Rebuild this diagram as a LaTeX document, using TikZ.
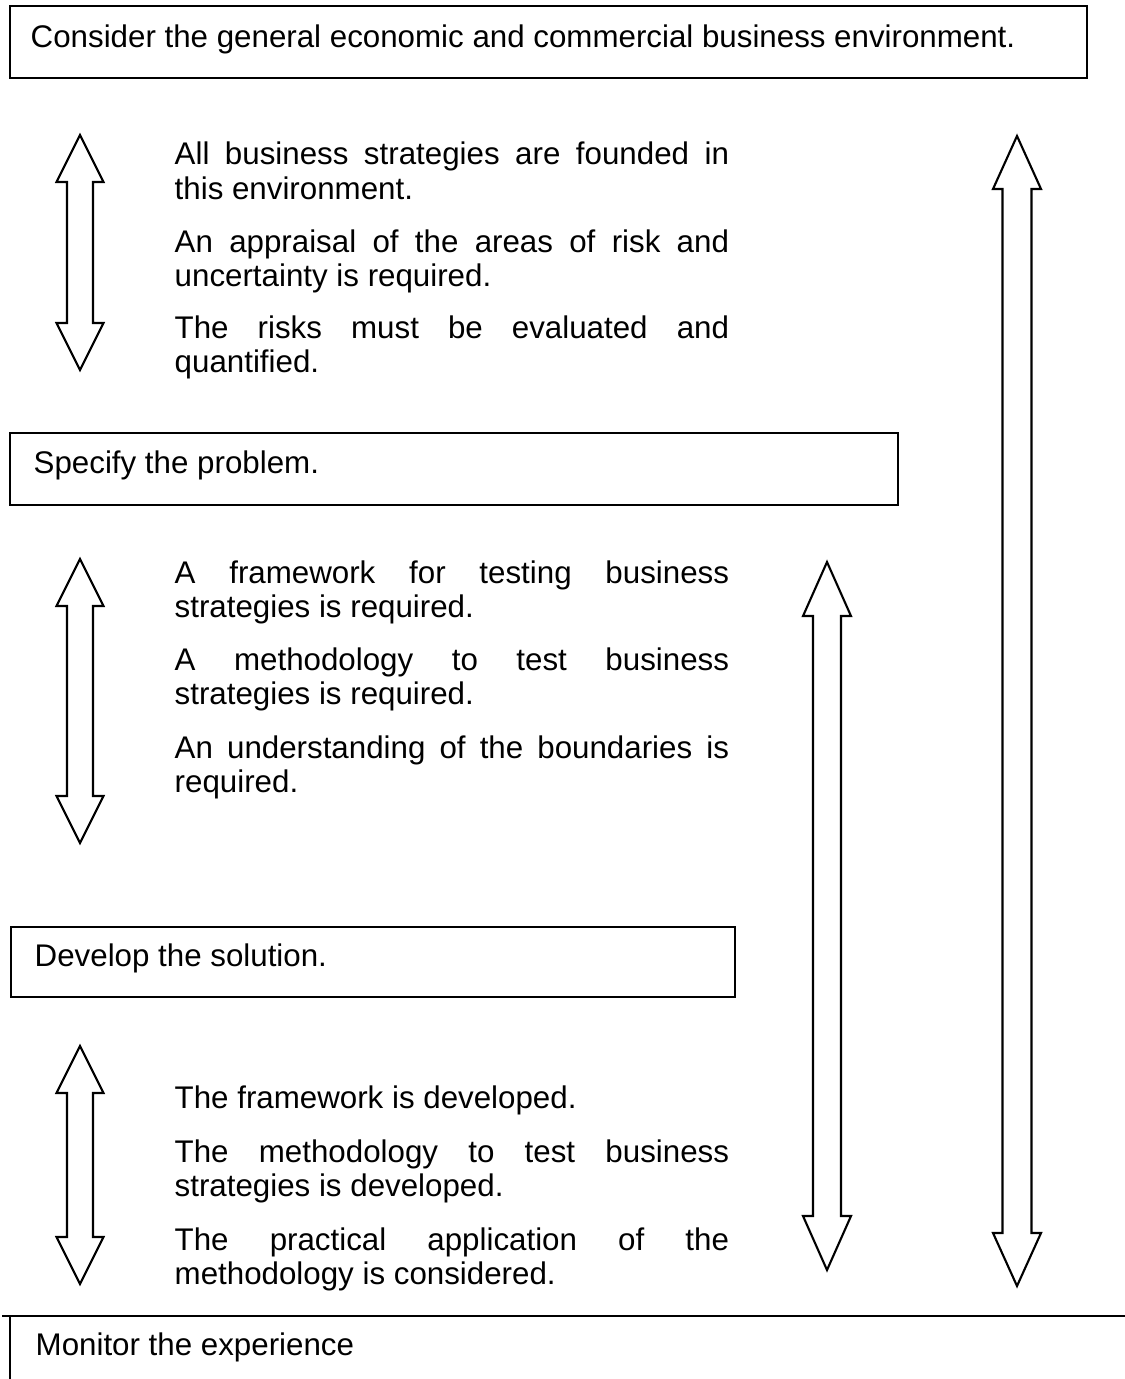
\documentclass[tikz,border=0pt]{standalone}
\usepackage{fontspec}
\setmainfont{Liberation Sans}
\usetikzlibrary{calc}

\hyphenpenalty=10000
\exhyphenpenalty=10000
\tolerance=10000

\tikzset{
  stagebox/.style={line width=0.7pt},
  stagetext/.style={anchor=base west, inner sep=0pt, font=\fontsize{8.9}{9.9}\selectfont},
  bodytext/.style={anchor=base west, inner sep=0pt, text width=5.54cm, align=justify,
    font=\fontsize{8.9}{9.9}\selectfont},
  hollowarrow/.style={line width=0.6pt, line join=miter}
}

% centre x, top tip, bottom tip, head length, head half width, shaft half width
\newcommand{\dblarrow}[6]{%
  \draw[hollowarrow] (#1,#2) -- (#1+#5,#2+#4) -- (#1+#6,#2+#4) -- (#1+#6,#3-#4)
    -- (#1+#5,#3-#4) -- (#1,#3) -- (#1-#5,#3-#4) -- (#1-#6,#3-#4)
    -- (#1-#6,#2+#4) -- (#1-#5,#2+#4) -- cycle;}

\begin{document}
\begin{tikzpicture}[x=0.01cm, y=-0.01cm]
\useasboundingbox (0,0) rectangle (1125,1379);

% Stage boxes
\draw[stagebox] (10,6) rectangle (1087,78);
\node[stagetext] (consider) at (30,48) {Consider the general economic and commercial business environment.};

\draw[stagebox] (10,433) rectangle (898,505);
\node[stagetext] (specify) at (33,473) {Specify the problem.};

\draw[stagebox] (11,927) rectangle (735,997);
\node[stagetext] (develop) at (34,966) {Develop the solution.};

\draw[stagebox] (2,1316) -- (1125,1316);
\draw[stagebox] (10,1316) -- (10,1379);
\node[stagetext] (monitor) at (35,1355) {Monitor the experience};

% Notes under the environment
\node[bodytext] (founded) at (174,165) {All business strategies are founded in this environment.};
\node[bodytext] (appraisal) at (174,252) {An appraisal of the areas of risk and uncertainty is required.};
\node[bodytext] (quantify) at (174,338) {The risks must be evaluated and quantified.};

% Notes under the problem
\node[bodytext] (framework) at (174,583) {A framework for testing business strategies is required.};
\node[bodytext] (methodology) at (174,670) {A methodology to test business strategies is required.};
\node[bodytext] (boundaries) at (174,758) {An understanding of the boundaries is required.};

% Notes under the solution
\node[bodytext] (frameworkdev) at (174,1108) {The framework is developed.};
\node[bodytext] (methodologydev) at (174,1162) {The methodology to test business strategies is developed.};
\node[bodytext] (application) at (174,1250) {The practical application of the methodology is considered.};

% Hollow double arrows
\dblarrow{80}{135}{370}{47}{23.5}{13}
\dblarrow{80}{559}{843}{47}{23.5}{13}
\dblarrow{80}{1046}{1284}{47}{23.5}{13}
\dblarrow{827}{562}{1270}{54}{24}{14}
\dblarrow{1017}{136}{1286}{53}{24}{14.5}
\end{tikzpicture}
\end{document}
